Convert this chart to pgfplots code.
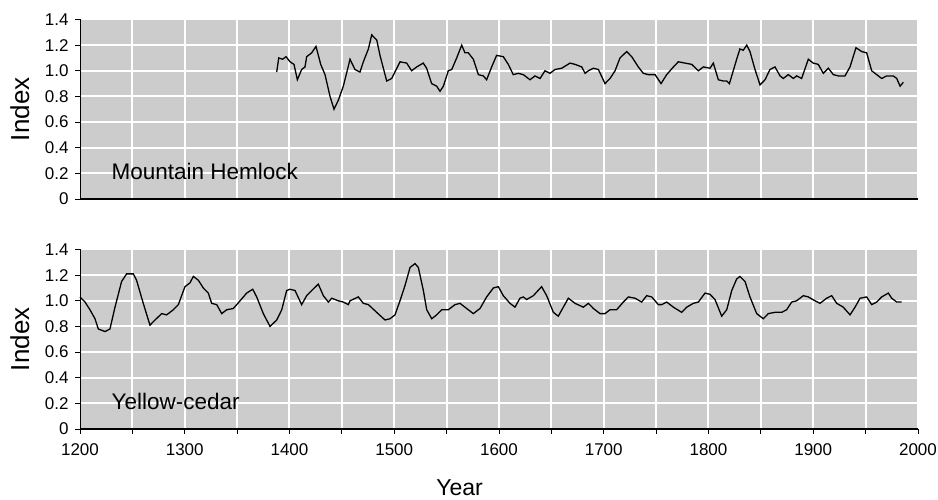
\documentclass[border=0pt]{standalone}
\usepackage{fontspec}
\setmainfont{Liberation Sans}
\usepackage{pgfplots}
\pgfplotsset{compat=1.18}
\begin{document}
\begin{tikzpicture}
\path[use as bounding box] (0,0) rectangle (938pt,500pt);
\pgfplotsset{
  panel/.style={
    at={(80pt,#1)}, anchor=south west,
    scale only axis, width=838pt, height=179.5pt,
    xmin=1200, xmax=2000, ymin=0, ymax=1.4,
    axis x line*=bottom, axis y line*=left,
    x axis line style={-, line width=1.6pt},
    y axis line style={-, line width=0.8pt},
    axis background/.style={fill=black!20},
    ytick={0,0.2,0.4,0.6,0.8,1.0,1.2,1.4},
    yticklabels={0,0.2,0.4,0.6,0.8,1.0,1.2,1.4},
    minor xtick={1250,1350,1450,1550,1650,1750,1850,1950},
    grid=both,
    major grid style={white, line width=2pt},
    minor grid style={white, line width=2pt},
    tick align=outside, major tick length=5pt, minor tick length=5pt,
    tick style={black, line width=0.8pt},
    /pgf/number format/1000 sep={},
    /pgf/number format/assume math mode=true,
    tick label style={font=\fontsize{17}{19}\selectfont},
    yticklabel style={xshift=-3pt},
    xticklabel style={yshift=-6pt},
    ylabel={Index},
    ylabel style={at={(axis description cs:-0.0835,0.5)}, anchor=north, inner sep=0pt, font=\fontsize{26}{29}\selectfont},
    clip=false,
  }
}
\begin{axis}[panel=301pt,
  xtick={1200,1300,1400,1500,1600,1700,1800,1900,2000},
  xticklabels={},
  x tick style={draw=none},
]
\addplot[black, line width=1.3pt] coordinates {
(1387.8,0.99)(1389.7,1.10)(1393.5,1.09)(1396.7,1.11)(1400.5,1.07)(1404.3,1.05)(1407.5,0.93)(1411.6,1.01)(1414.8,1.03)(1416.4,1.11)(1421.2,1.14)(1425.3,1.19)(1429.8,1.05)(1433.9,0.97)(1438.7,0.80)(1442.5,0.70)(1446.6,0.77)(1451.4,0.88)(1457.8,1.09)(1462.5,1.01)(1467.3,0.99)(1470.5,1.07)(1475.3,1.17)(1478.5,1.28)(1483.3,1.24)(1486.4,1.12)(1492.8,0.92)(1497.6,0.94)(1505.5,1.07)(1511.9,1.06)(1516.6,1.00)(1521.4,1.03)(1527.7,1.06)(1530.9,1.02)(1535.7,0.90)(1540.5,0.88)(1543.7,0.84)(1546.9,0.88)(1551.6,1.00)(1554.9,1.01)(1559.6,1.10)(1564.4,1.20)(1567.5,1.14)(1570.7,1.14)(1575.5,1.09)(1580.3,0.97)(1585,0.96)(1588.2,0.93)(1593,1.03)(1597.7,1.12)(1604.1,1.11)(1608.9,1.05)(1613.6,0.97)(1618.4,0.98)(1623.2,0.97)(1629.6,0.93)(1634.4,0.96)(1639.2,0.94)(1643.9,1.00)(1648.7,0.98)(1653.5,1.01)(1659.9,1.02)(1667.8,1.06)(1672.6,1.05)(1679,1.03)(1682.2,0.98)(1685.3,1.00)(1690.1,1.02)(1694.9,1.01)(1701.2,0.90)(1706,0.94)(1710.8,1.00)(1715.5,1.10)(1721.9,1.15)(1726.7,1.11)(1733,1.03)(1737.8,0.98)(1742.6,0.97)(1749,0.97)(1754.7,0.90)(1760.1,0.97)(1766.5,1.03)(1771.2,1.07)(1777.6,1.06)(1784,1.05)(1790.3,1.00)(1795.1,1.03)(1801.5,1.02)(1804.6,1.06)(1809.4,0.93)(1814.2,0.92)(1817.4,0.92)(1820,0.90)(1826.9,1.09)(1830,1.17)(1833.2,1.16)(1836.5,1.20)(1839.6,1.15)(1844.4,1.01)(1849.2,0.89)(1854,0.93)(1858.7,1.01)(1863.5,1.03)(1868.3,0.96)(1871.4,0.94)(1876.2,0.97)(1881,0.94)(1884.2,0.96)(1888.9,0.94)(1895.3,1.09)(1900,1.06)(1904.8,1.05)(1909.6,0.98)(1914.4,1.02)(1919.2,0.97)(1924,0.96)(1930.3,0.96)(1935.1,1.03)(1940.8,1.18)(1946.2,1.15)(1951,1.14)(1955.8,1.00)(1960.6,0.97)(1965.3,0.94)(1970.1,0.96)(1976.5,0.96)(1979.7,0.94)(1982.9,0.88)(1986,0.91)
};
\node[anchor=base west, inner sep=0pt, font=\fontsize{22.5}{25}\selectfont] at (axis cs:1230,0.15) {Mountain Hemlock};
\end{axis}
\begin{axis}[panel=71pt,
  xtick={1200,1300,1400,1500,1600,1700,1800,1900,2000},
  xlabel={Year},
  xlabel style={at={(axis description cs:0.453,-0.373)}, anchor=base, inner sep=0pt, font=\fontsize{23}{26}\selectfont},
]
\addplot[black, line width=1.3pt] coordinates {
(1200,1.03)(1204.8,0.99)(1209.5,0.93)(1214.3,0.86)(1217.5,0.78)(1223.9,0.76)(1228.6,0.78)(1233.4,0.95)(1239.7,1.15)(1244.5,1.21)(1250.9,1.21)(1254,1.16)(1260.4,0.98)(1266.8,0.81)(1271.6,0.85)(1278,0.90)(1282.7,0.89)(1289.1,0.93)(1293.9,0.97)(1300.2,1.11)(1305,1.14)(1308.2,1.19)(1313,1.16)(1317.7,1.10)(1322.5,1.06)(1325.7,0.98)(1330.5,0.97)(1335.3,0.90)(1340,0.93)(1346.4,0.94)(1352.8,1.00)(1359.1,1.06)(1364.9,1.09)(1368.7,1.03)(1375,0.90)(1381.4,0.80)(1387.8,0.85)(1392.6,0.93)(1397.3,1.08)(1400.5,1.09)(1405.3,1.08)(1411.6,0.97)(1416.4,1.04)(1421.2,1.08)(1427.5,1.13)(1432.3,1.04)(1437.1,0.99)(1440.3,1.02)(1446.6,1.00)(1451.4,0.99)(1456.2,0.97)(1457.8,1.00)(1465.7,1.03)(1470.5,0.98)(1475.3,0.97)(1483.2,0.91)(1491.2,0.85)(1496,0.86)(1500.7,0.89)(1505.5,1.00)(1510.3,1.12)(1515.1,1.26)(1519.8,1.29)(1523,1.26)(1527.8,1.08)(1531,0.93)(1535.8,0.86)(1540.5,0.89)(1545.3,0.93)(1551.6,0.93)(1558,0.97)(1562.8,0.98)(1567.5,0.95)(1575.5,0.90)(1581.9,0.94)(1588.2,1.03)(1594.6,1.10)(1599.4,1.11)(1604.1,1.04)(1610.5,0.98)(1615.3,0.95)(1620,1.02)(1623.2,1.03)(1626.4,1.01)(1632.8,1.04)(1640.7,1.11)(1645.5,1.04)(1651.9,0.91)(1656.6,0.88)(1661.4,0.95)(1666.2,1.02)(1672.6,0.98)(1680.5,0.95)(1685.3,0.98)(1690.1,0.94)(1696.4,0.90)(1701.2,0.90)(1706,0.93)(1712.3,0.93)(1718.7,0.99)(1723.5,1.03)(1729.9,1.02)(1736.2,0.99)(1741,1.04)(1745.8,1.03)(1752.1,0.97)(1755.4,0.97)(1760.1,0.99)(1766.5,0.95)(1774.4,0.91)(1779.2,0.95)(1785.5,0.98)(1790.3,0.99)(1796.7,1.06)(1801.5,1.05)(1806.2,1.01)(1812.6,0.88)(1817.4,0.93)(1822.2,1.08)(1826.9,1.17)(1830,1.19)(1834.9,1.15)(1839.6,1.03)(1846,0.90)(1852.3,0.86)(1857.1,0.90)(1863.5,0.91)(1869.9,0.91)(1874.6,0.93)(1879.4,0.99)(1884.2,1.00)(1890.5,1.04)(1895.3,1.03)(1901.7,1.00)(1906.5,0.98)(1912.8,1.02)(1917.6,1.04)(1922.4,0.98)(1928.7,0.95)(1935.1,0.89)(1939.9,0.95)(1944.7,1.02)(1951,1.03)(1955.8,0.97)(1960.6,0.99)(1965.3,1.03)(1971.7,1.06)(1974.9,1.02)(1979.7,0.99)(1984.4,0.99)
};
\node[anchor=base west, inner sep=0pt, font=\fontsize{22.5}{25}\selectfont] at (axis cs:1230,0.15) {Yellow-cedar};
\end{axis}
\end{tikzpicture}
\end{document}
